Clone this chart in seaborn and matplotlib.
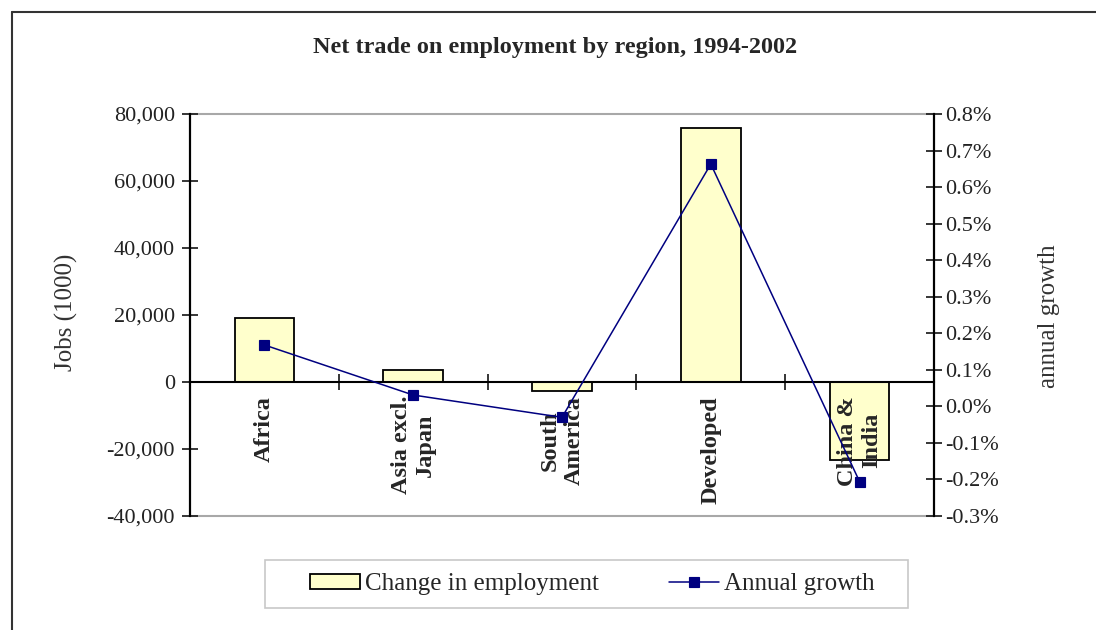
import numpy as np
import pandas as pd
import matplotlib
matplotlib.use("Agg")
import matplotlib.pyplot as plt
from matplotlib.patches import Rectangle
from matplotlib.lines import Line2D
from matplotlib.transforms import offset_copy
import seaborn as sns

# values
regions = ["Africa", "Asia excl.\nJapan", "South\nAmerica", "Developed", "China &\nIndia"]
jobs = [19000, 3600, -2800, 75700, -23400]          # change in employment, 1000 jobs
growth = [0.168, 0.031, -0.030, 0.663, -0.206]      # annual growth, %
left_ticks = [-40000, -20000, 0, 20000, 40000, 60000, 80000]
right_ticks = [-0.3, -0.2, -0.1, 0.0, 0.1, 0.2, 0.3, 0.4, 0.5, 0.6, 0.7, 0.8]

df = pd.DataFrame({"region": regions, "jobs": jobs, "growth": growth})

sns.set_style("white")
plt.rcParams["font.family"] = ["Liberation Serif", "DejaVu Serif"]

W, H = 1096, 630
fig = plt.figure(figsize=(W / 100, H / 100), dpi=100)
ax = fig.add_axes([190 / W, 114 / H, 744 / W, 402 / H])

sns.barplot(data=df, x="region", y="jobs", ax=ax, color="#FFFFCC",
            edgecolor="black", linewidth=1.3, width=0.4, saturation=1,
            label="Change in employment")

ax2 = ax.twinx()
sns.pointplot(data=df, x="region", y="growth", ax=ax2, color="#000080",
              markers="s", markersize=7, linewidth=1.1, errorbar=None,
              label="Annual growth")

# left axis
ax.set_ylim(-40000, 80000)
ax.set_yticks(left_ticks)
ax.set_yticklabels([f"{v:,}" for v in left_ticks], fontsize=16, color="#222222")
ax.set_ylabel("Jobs (1000)", fontsize=18, color="#333333")
ax.yaxis.set_label_coords(-0.15, 0.507)
ax.tick_params(axis="y", direction="inout", length=11.5, width=1.3, left=True, pad=5)

# right axis
ax2.set_ylim(-0.3, 0.8)
ax2.set_yticks(right_ticks)
ax2.set_yticklabels([f"{v:.1f}%" for v in right_ticks], fontsize=16, color="#222222")
ax2.set_ylabel("annual growth", fontsize=18, color="#333333")
ax2.yaxis.set_label_coords(1.14, 0.4975)
ax2.tick_params(axis="y", direction="inout", length=11.5, width=1.3, right=True, pad=2)

# category axis sits on zero line, ticks between categories
ax.set_xlim(-0.5, len(regions) - 0.5)
ax.set_xticks(np.arange(1, len(regions)) - 0.5)
ax.set_xticklabels([])
ax.tick_params(axis="x", which="major", direction="inout", length=11.5, width=1.3, bottom=True)
ax.set_xlabel("")
ax.spines["bottom"].set_position(("data", 0))
ax.spines["bottom"].set_linewidth(1.5)
ax.spines["bottom"].set_color("black")

label_tr = offset_copy(ax.transData, fig=fig, y=-10, units="points")
for i, name in enumerate(regions):
    ax.text(i, 0, name, transform=label_tr, rotation=90, ha="center", va="top",
            multialignment="center", fontsize=17.5, fontweight="bold", zorder=1)

for a in (ax, ax2):
    a.spines["top"].set_visible(False)
    a.spines["left"].set_color("black")
    a.spines["right"].set_color("black")
    a.spines["left"].set_linewidth(1.5)
    a.spines["right"].set_linewidth(1.5)
ax2.spines["bottom"].set_visible(False)

# grey plot-area frame top and bottom
ax.add_patch(Rectangle((0, 0), 1, 1, transform=ax.transAxes, fill=False,
                       edgecolor="#a8a8a8", linewidth=1.5, clip_on=False, zorder=0))

fig.text(0.506, 0.925, "Net trade on employment by region, 1994-2002",
         ha="center", va="center", fontsize=17.5, fontweight="bold")

# legend
h1, l1 = ax.get_legend_handles_labels()
h2, l2 = ax2.get_legend_handles_labels()
for a in (ax, ax2):
    if a.get_legend() is not None:
        a.get_legend().remove()
fig.legend(h1[:1] + h2[:1], ["Change in employment", "Annual growth"],
           ncol=2, loc="center", bbox_to_anchor=(592 / W, 1 - 584 / H),
           fontsize=18, frameon=False, handlelength=2.0, handleheight=0.56,
           columnspacing=2.8, handletextpad=0.2)
fig.add_artist(Rectangle((265 / W, 1 - 608 / H), 643 / W, 48 / H,
                         transform=fig.transFigure, fill=False,
                         edgecolor="#c8c8c8", linewidth=1.2))

# outer chart border (left and top visible)
fig.add_artist(Line2D([12 / W, 12 / W], [0, 1 - 12 / H], color="#333333", lw=1.5))
fig.add_artist(Line2D([12 / W, 1], [1 - 12 / H, 1 - 12 / H], color="#333333", lw=1.5))

fig.savefig("out.png", dpi=100)
